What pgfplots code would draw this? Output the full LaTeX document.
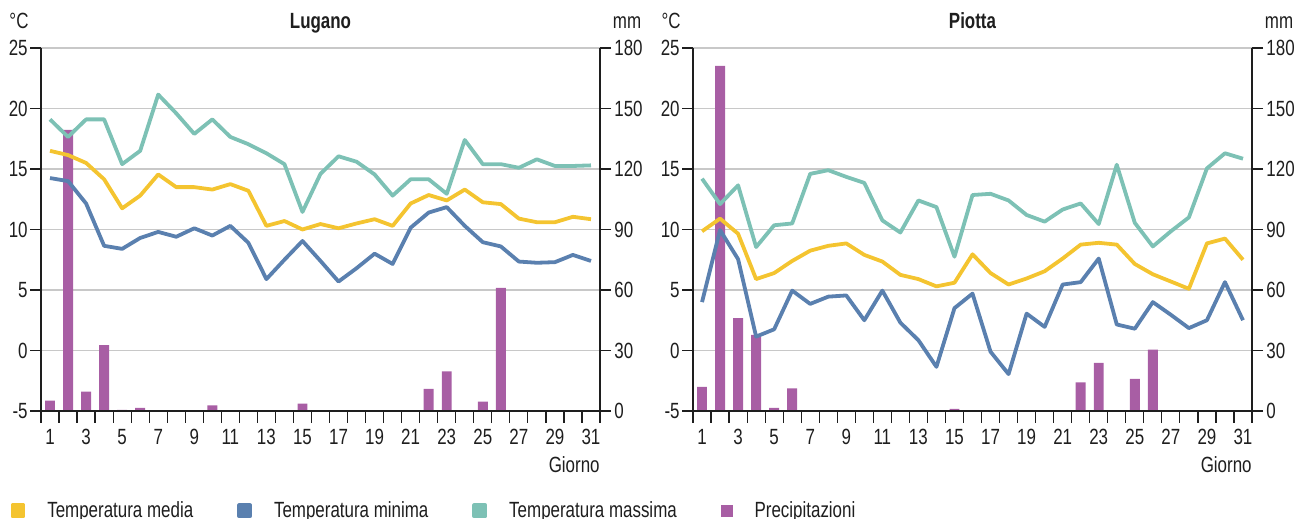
\documentclass[border=0pt]{standalone}
\usepackage{fontspec}
\setmainfont[FakeStretch=0.77]{Liberation Sans}
\usepackage{pgfplots}
\usepackage{pgfplotstable}
\pgfplotsset{compat=1.18}
\definecolor{cmedia}{HTML}{F4C430}
\definecolor{cminima}{HTML}{5A80AF}
\definecolor{cmassima}{HTML}{7DC1B5}
\definecolor{cprec}{HTML}{A85EA4}
\definecolor{cgrid}{HTML}{C8C8C8}
\definecolor{ctext}{HTML}{1E1E1E}

\pgfplotstableread{
d media minima massima prec
1 16.5 14.25 19.1 5.1
2 16.15 14.0 17.65 139.4
3 15.5 12.15 19.1 9.6
4 14.15 8.65 19.1 32.7
5 11.75 8.4 15.4 0.5
6 12.8 9.3 16.5 1.5
7 14.55 9.8 21.15 0
8 13.5 9.4 19.6 0
9 13.5 10.1 17.9 0
10 13.3 9.5 19.1 2.8
11 13.75 10.3 17.65 0
12 13.2 8.9 17.05 0
13 10.3 5.9 16.3 0
14 10.7 7.5 15.4 0
15 10.0 9.05 11.45 3.6
16 10.45 7.4 14.6 0
17 10.1 5.7 16.05 0
18 10.5 6.8 15.6 0
19 10.85 8.0 14.55 0
20 10.3 7.15 12.8 0
21 12.15 10.15 14.15 0
22 12.85 11.4 14.15 11.0
23 12.4 11.85 12.95 19.6
24 13.3 10.3 17.4 0
25 12.25 8.95 15.4 4.6
26 12.1 8.6 15.4 61.0
27 10.9 7.35 15.1 0
28 10.6 7.25 15.8 0
29 10.6 7.3 15.25 0
30 11.05 7.9 15.25 0
31 10.85 7.4 15.3 0
}\lugano

\pgfplotstableread{
d media minima massima prec
1 9.85 4.0 14.2 11.9
2 10.9 9.95 12.1 171.1
3 9.65 7.55 13.65 46.0
4 5.9 1.15 8.55 37.7
5 6.4 1.75 10.35 1.5
6 7.4 4.95 10.5 11.2
7 8.25 3.85 14.6 0
8 8.65 4.45 14.9 0
9 8.85 4.55 14.35 0
10 7.9 2.5 13.85 0
11 7.35 4.95 10.75 0
12 6.25 2.3 9.75 0
13 5.9 0.85 12.4 0
14 5.3 -1.35 11.85 0
15 5.6 3.5 7.75 1.0
16 7.95 4.7 12.85 0
17 6.4 -0.1 12.95 0
18 5.45 -1.95 12.4 0
19 5.95 3.05 11.2 0
20 6.55 1.95 10.65 0
21 7.6 5.45 11.65 0
22 8.75 5.65 12.15 14.2
23 8.9 7.6 10.45 23.8
24 8.75 2.15 15.35 0
25 7.15 1.8 10.55 15.9
26 6.3 4.0 8.6 30.4
27 5.7 2.95 9.85 0
28 5.1 1.85 11.0 0
29 8.85 2.5 15.05 0
30 9.25 5.65 16.3 0
31 7.5 2.5 15.85 0
}\piotta

\pgfplotsset{
  base/.style={
    scale only axis, width=279.5pt, height=181.5pt,
    xmin=0.5, xmax=31.5, anchor=south west,
    font=\fontsize{11}{13}\selectfont,
    /pgf/number format/assume math mode=true,
    tick align=outside, major tick length=5.5pt,
    every tick/.style={ctext, line width=0.6pt},
    axis line style={ctext, line width=0.7pt},
  },
  mmaxis/.style={base,
    ymin=0, ymax=180, ytick={0,30,...,180},
    axis y line*=right, axis x line=none,
    ymajorgrids, grid style={cgrid, line width=0.6pt},
    yticklabel style={inner sep=0pt, anchor=west, xshift=1.5pt, text=ctext},
    ylabel={mm},
    ylabel style={rotate=-90, at={(axis description cs:1,1)}, anchor=base, xshift=13.5pt, yshift=9.5pt, text=ctext},
  },
  taxis/.style={base,
    ymin=-5, ymax=25, ytick={-5,0,...,25},
    axis y line*=left, axis x line*=bottom,
    xtick={1,3,...,31}, minor xtick={0.5,1.5,...,31.5},
    major x tick style={draw=none}, minor tick length=6pt,
    minor x tick style={ctext, line width=0.6pt},
    xticklabel style={inner sep=0pt, anchor=north, yshift=-3.5pt, text=ctext},
    yticklabel style={inner sep=0pt, anchor=east, xshift=-1pt, text=ctext},
    ylabel={°C},
    ylabel style={rotate=-90, at={(axis description cs:0,1)}, anchor=base, xshift=-11pt, yshift=9.5pt, text=ctext},
    xlabel={Giorno},
    xlabel style={at={(axis description cs:1,0)}, anchor=base east, inner sep=0pt, yshift=-31pt, text=ctext},
    title style={at={(axis description cs:0.5,1)}, anchor=base, yshift=3.5pt, font=\fontsize{11}{13}\selectfont\bfseries, text=ctext},
  },
  tline/.style={line width=1.9pt, line join=round, no marks},
}

\begin{document}
\begin{tikzpicture}
\useasboundingbox (0,0) rectangle (648pt,259.5pt);
% ---------- Lugano ----------
\begin{axis}[mmaxis, at={(20.5pt,54pt)}]
\addplot[ybar, bar width=0.55, fill=cprec, draw=none] table[x=d,y=prec]{\lugano};
\end{axis}
\begin{axis}[taxis, at={(20.5pt,54pt)}, title={Lugano},
  legend style={at={(axis description cs:-0.066,-0.275)}, anchor=west, draw=none, fill=none,
    legend columns=4, font=\fontsize{11}{13}\selectfont, text=ctext,
    /tikz/every odd column/.append style={column sep=9pt},
    /tikz/every even column/.append style={column sep=20pt}},
  legend cell align=left]
\addplot[tline, cmedia, legend image code/.code={\fill[cmedia] (0pt,-2.75pt) rectangle (5.5pt,2.75pt);}] table[x=d,y=media]{\lugano};
\addlegendentry{Temperatura media}
\addplot[tline, cminima, legend image code/.code={\fill[cminima] (0pt,-2.75pt) rectangle (5.5pt,2.75pt);}] table[x=d,y=minima]{\lugano};
\addlegendentry{Temperatura minima}
\addplot[tline, cmassima, legend image code/.code={\fill[cmassima] (0pt,-2.75pt) rectangle (5.5pt,2.75pt);}] table[x=d,y=massima]{\lugano};
\addlegendentry{Temperatura massima}
\addlegendimage{legend image code/.code={\fill[cprec] (0pt,-2.75pt) rectangle (5.5pt,2.75pt);}}
\addlegendentry{Precipitazioni}
\end{axis}
% ---------- Piotta ----------
\begin{axis}[mmaxis, at={(346.5pt,54pt)}]
\addplot[ybar, bar width=0.55, fill=cprec, draw=none] table[x=d,y=prec]{\piotta};
\end{axis}
\begin{axis}[taxis, at={(346.5pt,54pt)}, title={Piotta}]
\addplot[tline, cmedia] table[x=d,y=media]{\piotta};
\addplot[tline, cminima] table[x=d,y=minima]{\piotta};
\addplot[tline, cmassima] table[x=d,y=massima]{\piotta};
\end{axis}
\end{tikzpicture}
\end{document}
